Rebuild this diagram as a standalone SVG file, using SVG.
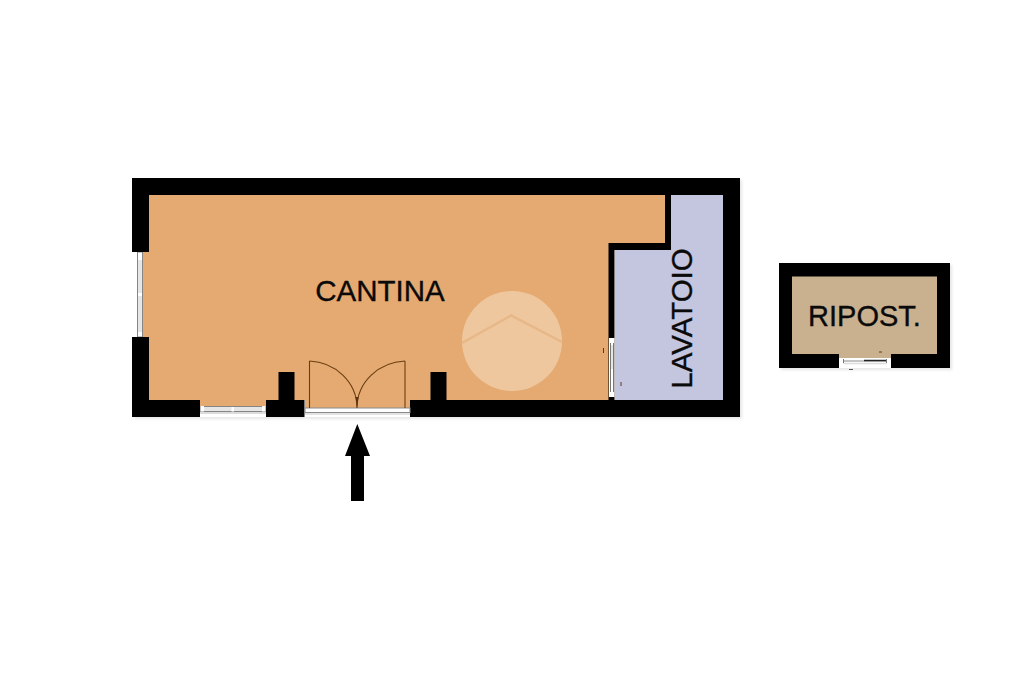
<svg xmlns="http://www.w3.org/2000/svg" width="1024" height="682" viewBox="0 0 1024 682">
<style>
.wall{fill:#000}
.lbl{font-family:"Liberation Sans",Arial,sans-serif;fill:#0a0a0a;stroke:#0a0a0a;stroke-width:.35;text-anchor:middle}
.sq{fill:#fff}
.pane{fill:#e6e6e6;stroke:#858585;stroke-width:1}
.door{fill:none;stroke:#6b3d12;stroke-width:1.100}
</style>
<defs><filter id="soft" x="-5%" y="-5%" width="110%" height="110%"><feGaussianBlur stdDeviation="1.500"/></filter></defs>
<rect width="1024" height="682" fill="#fff"/>
<g id="shadows" filter="url(#soft)" fill="#e6e6e6">
<rect x="134" y="180" width="608" height="239"/>
<rect x="781" y="265" width="171" height="105"/>
</g>
<rect x="132" y="178" width="608" height="239" fill="#fff"/>
<g id="cantina">
<path d="M143 195H665V243H609V400H410V408H305V400H266V406H200V400H149V337H143V252H143Z" fill="#e4aa71"/>
<circle cx="512" cy="341" r="50" fill="#efc79f"/>
<path d="M462 343L511 315.500L562 342" fill="none" stroke="#e7b885" stroke-width="2.500"/>
<text class="lbl" x="380" y="301" font-size="29.500">CANTINA</text>
</g>
<g id="lavatoio">
<path d="M671 195H723V400H615V250H671Z" fill="#c4c5de"/>
<text class="lbl" x="0" y="0" font-size="29.500" transform="translate(691.500 318.500) rotate(-90)">LAVATOIO</text>
</g>
<g id="ripost">
<rect x="779" y="263" width="171" height="105" fill="#fff"/>
<rect x="792" y="276" width="145" height="82" fill="#c9b08e"/>
<path class="wall" d="M779 263H950V368H891V354H937V276.500H792V354H839V368H779Z"/>
<path d="M843.500 361H886.500" stroke="#8a8a8a" stroke-width="1" fill="none"/>
<path d="M843.500 363.500H886.500" stroke="#dcdcdc" stroke-width="1.500" fill="none"/>
<path d="M843.500 359V363M886.500 359V363" stroke="#777" stroke-width="1"/>
<path d="M864 360.500H886" stroke="#222" stroke-width="1.500"/>
<path d="M849 369.500H853" stroke="#555" stroke-width="1"/>
<path d="M879 352H882" stroke="#6b3d12" stroke-width="1"/>
<text class="lbl" x="864.500" y="326" font-size="29">RIPOST.</text>
</g>
<g id="walls">
<path class="wall" fill-rule="evenodd" d="M132 178H740V417H410V400H430.500V372H446.500V400H608.500V243H665V195H149V252H132ZM671 195V250H614.500V400H723V195Z"/>
<path class="wall" d="M132 337H149V400H200V417H132Z"/>
<path class="wall" d="M266 400H278.500V372H294.500V400H304.500V417H266Z"/>
</g>
<g id="windows">
<rect class="pane" x="137.500" y="252.500" width="5" height="84"/>
<path class="sq" d="M138 252.500H142V260H138ZM138 293H142V296H138ZM138 332H142V336.500H138Z"/>
<rect class="pane" x="200.500" y="406.500" width="65" height="5"/>
<path class="sq" d="M200.500 406H204V411.500H200.500ZM231.500 407H234V411.500H231.500ZM262 406H265.500V411.500H262Z"/>
<path d="M200 413H266" stroke="#dcdcdc" stroke-width="2"/>
<rect x="609" y="338" width="5.500" height="59" fill="#fff"/>
<path d="M610.500 343V392M613.500 343V392" stroke="#777" stroke-width="1" fill="none"/>
<path d="M611 345H613V369H611Z" fill="#e6e6e6"/>
<path d="M603.500 348V353M621 382V386" stroke="#5a3a1e" stroke-width="1"/>
</g>
<g id="door">
<rect x="305" y="408" width="105" height="4.500" fill="#fff" stroke="#8a8a8a" stroke-width="1"/>
<path d="M305 414H410" stroke="#e2e2e2" stroke-width="2"/>
<path class="door" d="M309.500 361V408"/>
<path class="door" d="M405 361V408" stroke-width="2"/>
<path class="door" d="M309.500 361C335 362 357 382 357 408M405 361C379 362 357 382 357 408"/>
<path d="M355.500 397L357 408L358.500 397Z" fill="#5a3410"/>
</g>
<g id="connectors">
<path id="entry-arrow" fill="#000" d="M357.300 424L370 456H364V501H351V456H345Z"/>
</g>
</svg>
